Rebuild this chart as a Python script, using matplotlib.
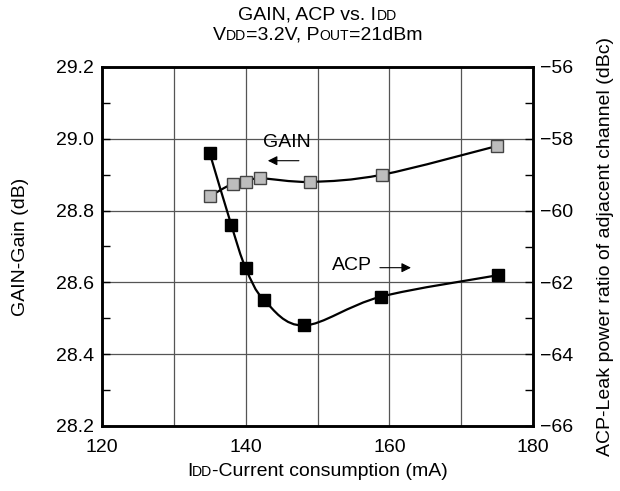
import numpy as np
import matplotlib
matplotlib.use("Agg")
import matplotlib.pyplot as plt
from matplotlib.path import Path
from matplotlib.patches import PathPatch
from matplotlib.ticker import MultipleLocator

plt.rcParams['font.family'] = ['Liberation Sans', 'DejaVu Sans']

# data
idd_gain = [135.0, 138.2, 140.0, 142.0, 149.0, 159.0, 175.0]
gain_db = [28.84, 28.875, 28.88, 28.89, 28.88, 28.90, 28.98]
idd_acp = [135.0, 138.0, 140.0, 142.6, 148.1, 158.8, 175.1]
acp_dbc = [-58.4, -60.4, -61.6, -62.5, -63.2, -62.4, -61.8]

FS = 14

fig = plt.figure(figsize=(6.2, 4.91), dpi=100)
ax = fig.add_axes([102 / 620, 1 - 426 / 491, 431 / 620, 359 / 491])
ax2 = ax.twinx()


def smooth_path(xs, ys):
    # catmull-rom through the points, drawn as cubic bezier
    pts = np.column_stack([xs, ys])
    verts = [pts[0]]
    codes = [Path.MOVETO]
    n = len(pts)
    for i in range(n - 1):
        p0 = pts[max(i - 1, 0)]
        p1 = pts[i]
        p2 = pts[i + 1]
        p3 = pts[min(i + 2, n - 1)]
        verts += [p1 + (p2 - p0) / 6, p2 - (p3 - p1) / 6, p2]
        codes += [Path.CURVE4] * 3
    return Path(verts, codes)


ax.add_patch(PathPatch(smooth_path(idd_gain, gain_db), fill=False, lw=1.6,
                       color='black', zorder=3))
ax.plot(idd_gain, gain_db, ls='none', marker='s', ms=8, mfc='#bdbdbd',
        mec='#444444', mew=1.0, zorder=4)

ax2.add_patch(PathPatch(smooth_path(idd_acp, acp_dbc), fill=False, lw=1.6,
                        color='black', zorder=3))
ax2.plot(idd_acp, acp_dbc, ls='none', marker='s', ms=8.5, mfc='black',
         mec='black', zorder=4)

ax.set_xlim(120, 180)
ax.set_ylim(28.2, 29.2)
ax2.set_ylim(-66, -56)

ax.xaxis.set_major_locator(MultipleLocator(20))
ax.xaxis.set_minor_locator(MultipleLocator(10))
ax.yaxis.set_major_locator(MultipleLocator(0.2))
ax.yaxis.set_minor_locator(MultipleLocator(0.1))
ax2.yaxis.set_major_locator(MultipleLocator(2))
ax2.yaxis.set_minor_locator(MultipleLocator(1))
ax.set_yticklabels([f"{v:.1f}" for v in ax.get_yticks()])

ax.grid(True, which='both', axis='x', color='#555555', lw=0.9)
ax.grid(True, which='major', axis='y', color='#555555', lw=0.9)
ax.set_axisbelow(True)

ax.tick_params(axis='x', which='both', length=0, labelsize=FS, pad=9)
ax.tick_params(axis='y', which='both', direction='in', length=6, width=1,
               labelsize=FS, pad=6)
ax2.tick_params(axis='y', which='both', direction='in', length=6, width=1,
                labelsize=FS, pad=5)

for a in (ax, ax2):
    for sp in a.spines.values():
        sp.set_linewidth(1.8)

ax.set_ylabel("GAIN-Gain (dB)", fontsize=FS, va='center')
ax.yaxis.set_label_coords((21 - 102) / 431, 0.5)
ax2.set_ylabel("ACP-Leak power ratio of adjacent channel (dBc)", fontsize=FS,
               va='center')
ax2.yaxis.set_label_coords((606 - 102) / 431, 0.5)

# in-plot labels with arrows
ax.text(145.7, 28.99, "GAIN", fontsize=FS, ha='center', va='center')
ax.annotate("", xy=(142.7, 28.939), xytext=(147.8, 28.939),
            arrowprops=dict(arrowstyle='-|>', color='black', lw=0.8,
                            mutation_scale=14))
ax.text(154.8, 28.648, "ACP", fontsize=FS, ha='center', va='center')
ax.annotate("", xy=(163.4, 28.641), xytext=(158.3, 28.641),
            arrowprops=dict(arrowstyle='-|>', color='black', lw=0.8,
                            mutation_scale=14))


def rich_line(parts, xc, y, size):
    # pieces of text on one baseline, small caps pieces scaled down
    texts = []
    prev = None
    for s, scale in parts:
        if prev is None:
            t = ax.annotate(s, xy=(0, y), xycoords='figure fraction',
                            fontsize=size * scale, va='baseline', ha='left',
                            annotation_clip=False)
        else:
            t = ax.annotate(s, xy=(1, y), xycoords=(prev, 'figure fraction'),
                            fontsize=size * scale, va='baseline', ha='left',
                            annotation_clip=False)
        texts.append(t)
        prev = t
    fig.canvas.draw()
    r = fig.canvas.get_renderer()
    left = texts[0].get_window_extent(r).x0
    right = texts[-1].get_window_extent(r).x1
    x0 = xc - (left + right) / 2 / fig.bbox.width
    texts[0].xy = (x0, y)
    texts[0].xyann = (x0, y)


sc = 0.72
xc = (102 + 533) / 2 / 620
rich_line([("GAIN, ACP vs. I", 1), ("DD", sc)], xc, 1 - 20 / 491, FS)
rich_line([("V", 1), ("DD", sc), ("=3.2V, P", 1), ("OUT", sc), ("=21dBm", 1)],
          xc, 1 - 40 / 491, FS)
rich_line([("I", 1), ("DD", sc), ("-Current consumption (mA)", 1)],
          xc, 1 - 476 / 491, FS)

fig.savefig("out.png", dpi=100)
